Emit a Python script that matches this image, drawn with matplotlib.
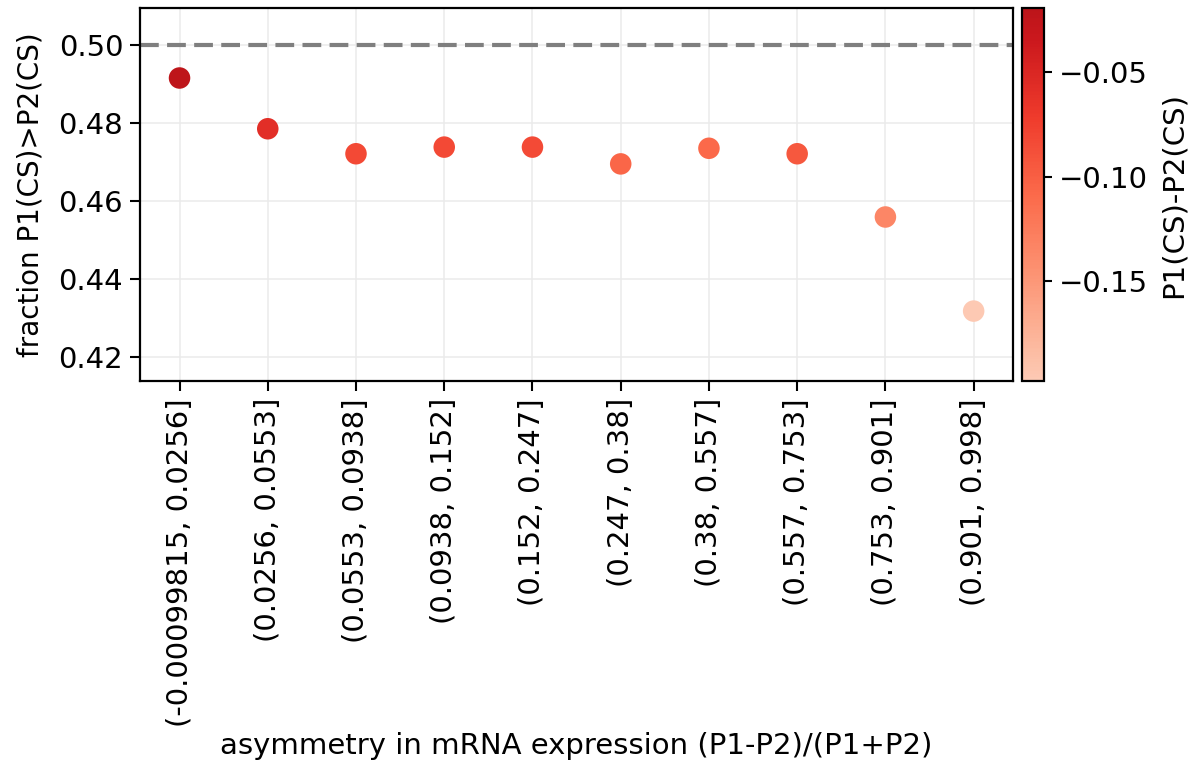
import numpy as np
import matplotlib
matplotlib.use("Agg")
import matplotlib.pyplot as plt
from matplotlib.colors import ListedColormap

# bins of asymmetry in mRNA expression
bins = ["(-0.00099815, 0.0256]", "(0.0256, 0.0553]", "(0.0553, 0.0938]",
        "(0.0938, 0.152]", "(0.152, 0.247]", "(0.247, 0.38]",
        "(0.38, 0.557]", "(0.557, 0.753]", "(0.753, 0.901]", "(0.901, 0.998]"]
frac = [0.4915, 0.4785, 0.4721, 0.4738, 0.4738, 0.4695, 0.4735, 0.4721, 0.4559, 0.4318]
diff = [-0.022, -0.058, -0.082, -0.082, -0.083, -0.106, -0.108, -0.094, -0.135, -0.196]

plt.rcParams['font.size'] = 21

# Reds, without the very light and very dark ends
cmap = ListedColormap(plt.get_cmap('Reds')(np.linspace(0.2, 0.8, 256)))

fig = plt.figure(figsize=(11.95, 7.72), dpi=100)
ax = fig.add_axes([0.117, 0.506, 0.731, 0.484])
cax = fig.add_axes([0.855, 0.506, 0.0185, 0.484])

x = np.arange(len(bins))
ax.set_axisbelow(True)
ax.grid(color='#ebebeb', linewidth=1.1)
ax.axhline(0.5, color='#7f7f7f', linestyle=(0, (4.5, 2)), linewidth=3, zorder=2)
sc = ax.scatter(x, frac, c=diff, cmap=cmap, vmin=-0.198, vmax=-0.019, s=240,
                linewidths=0, zorder=3)

ax.set_xticks(x)
ax.set_xticklabels(bins, rotation=90)
ax.set_xlim(-0.45, 9.45)
ax.set_ylim(0.4138, 0.5095)
ax.set_yticks([0.42, 0.44, 0.46, 0.48, 0.50])
ax.set_ylabel("fraction P1(CS)>P2(CS)", fontsize=20, labelpad=10)
ax.set_xlabel("asymmetry in mRNA expression (P1-P2)/(P1+P2)", fontsize=21)
ax.tick_params(length=7, width=1.5, pad=5)
for s in ax.spines.values():
    s.set_linewidth(1.6)

cb = fig.colorbar(sc, cax=cax)
cb.set_ticks([-0.15, -0.10, -0.05])
cb.set_label("P1(CS)-P2(CS)", fontsize=21, labelpad=8)
cb.outline.set_linewidth(1.6)
cax.tick_params(length=6, width=1.5, pad=5)

fig.savefig("out.png", dpi=100)
